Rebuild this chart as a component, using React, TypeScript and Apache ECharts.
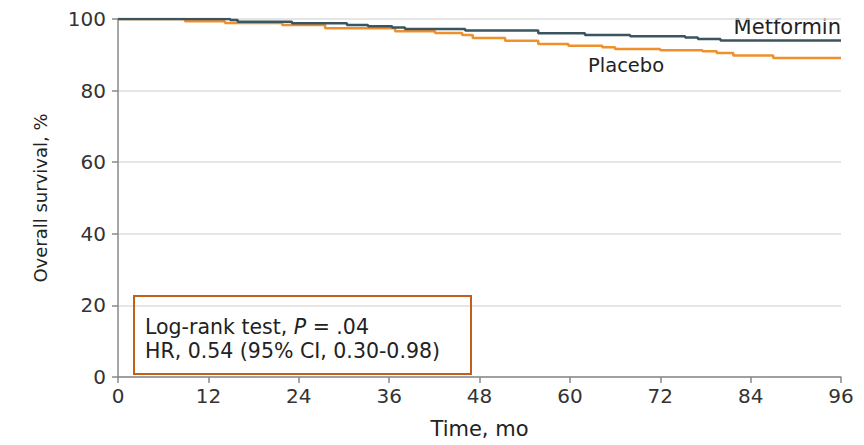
import React, { useEffect, useRef } from "react";
import * as echarts from "echarts";

const xTicks = [0, 12, 24, 36, 48, 60, 72, 84, 96];
const yTicks = [0, 20, 40, 60, 80, 100];

// Kaplan-Meier steps: [month, survival %]
const metformin: [number, number][] = [
  [0, 100], [14.9, 99.7], [15.9, 99.2], [23.1, 98.8], [30.4, 98.3], [33.2, 98.0],
  [36.4, 97.6], [38.1, 97.2], [46.1, 96.8], [55.8, 96.0], [62.0, 95.5], [68.0, 95.2],
  [75.3, 94.8], [77.0, 94.4], [80.0, 94.0], [96, 94.0],
];
const placebo: [number, number][] = [
  [0, 100], [8.9, 99.4], [14.2, 98.9], [21.8, 98.3], [27.5, 97.4], [36.8, 96.6],
  [42.1, 96.1], [45.7, 95.5], [47.1, 94.7], [51.4, 93.9], [55.8, 93.0], [59.8, 92.5],
  [64.3, 92.1], [66.0, 91.6], [72.0, 91.3], [77.6, 91.0], [79.5, 90.5], [81.7, 89.8],
  [87.0, 89.1], [96, 89.1],
];
const seriesNames = ["Metformin", "Placebo"];
const statLines = ["Log-rank test, ", "P", " = .04", "HR, 0.54 (95% CI, 0.30-0.98)"];

const FONT = "DejaVu Sans";
const C_MET = "#3b5560";
const C_PLA = "#f0902c";

export default function App() {
  const ref = useRef<HTMLDivElement>(null);
  useEffect(() => {
    document.body.style.margin = "0";
    const chart = echarts.init(ref.current!, null, { renderer: "svg" });
    chart.setOption({
      animation: false,
      textStyle: { fontFamily: FONT },
      grid: { left: 118, right: 23, top: 19, bottom: 68 },
      xAxis: {
        type: "value",
        min: 0,
        max: 96,
        interval: 12,
        name: "Time, mo",
        nameLocation: "middle",
        nameGap: 41,
        nameTextStyle: { fontSize: 21, color: "#222", fontFamily: FONT },
        axisLine: { lineStyle: { color: "#888", width: 1.5 } },
        axisTick: { length: 6, lineStyle: { color: "#888", width: 1.5 } },
        axisLabel: {
          fontSize: 20, color: "#333", margin: 9, fontFamily: FONT,
          formatter: (v: number) => (xTicks.includes(v) ? String(v) : ""),
        },
        splitLine: { show: false },
      },
      yAxis: {
        type: "value",
        min: 0,
        max: 100,
        interval: 20,
        name: "Overall survival, %",
        nameLocation: "middle",
        nameRotate: 90,
        nameGap: 69,
        nameTextStyle: { fontSize: 18, color: "#222", fontFamily: FONT },
        axisLine: { show: true, lineStyle: { color: "#888", width: 1.5 } },
        axisTick: { show: true, length: 6, lineStyle: { color: "#888", width: 1.5 } },
        axisLabel: {
          fontSize: 20, color: "#333", margin: 12, fontFamily: FONT,
          formatter: (v: number) => (yTicks.includes(v) ? String(v) : ""),
        },
        splitLine: { show: true, lineStyle: { color: "#dedede", width: 1.5 } },
      },
      series: [
        {
          name: seriesNames[1],
          type: "line",
          step: "end",
          data: placebo,
          showSymbol: false,
          lineStyle: { color: C_PLA, width: 2.5 },
          z: 2,
        },
        {
          name: seriesNames[0],
          type: "line",
          step: "end",
          data: metformin,
          showSymbol: false,
          lineStyle: { color: C_MET, width: 2.5 },
          z: 3,
        },
      ],
      graphic: [
        {
          type: "text",
          right: 23,
          top: 16,
          style: { text: seriesNames[0], fontSize: 21, fill: "#222", fontFamily: FONT },
        },
        {
          type: "text",
          left: 588,
          top: 55,
          style: { text: seriesNames[1], fontSize: 19.5, fill: "#222", fontFamily: FONT },
        },
        {
          type: "rect",
          shape: { x: 134, y: 296, width: 337, height: 78 },
          style: { fill: "rgba(255,255,255,0)", stroke: "#c0601c", lineWidth: 2 },
          z: 10,
        },
        {
          type: "text",
          left: 145,
          top: 316,
          z: 11,
          style: {
            text:
              `{n|${statLines[0]}}{i|${statLines[1]}}{n|${statLines[2]}}\n` +
              `{n|${statLines[3]}}`,
            rich: {
              n: { fontSize: 20.5, lineHeight: 24, fill: "#222", fontFamily: FONT },
              i: {
                fontSize: 20.5, lineHeight: 24, fill: "#222", fontFamily: FONT,
                fontStyle: "italic",
              },
            },
          },
        },
      ],
    });
    return () => chart.dispose();
  }, []);
  return <div ref={ref} style={{ width: 864, height: 445 }} />;
}
